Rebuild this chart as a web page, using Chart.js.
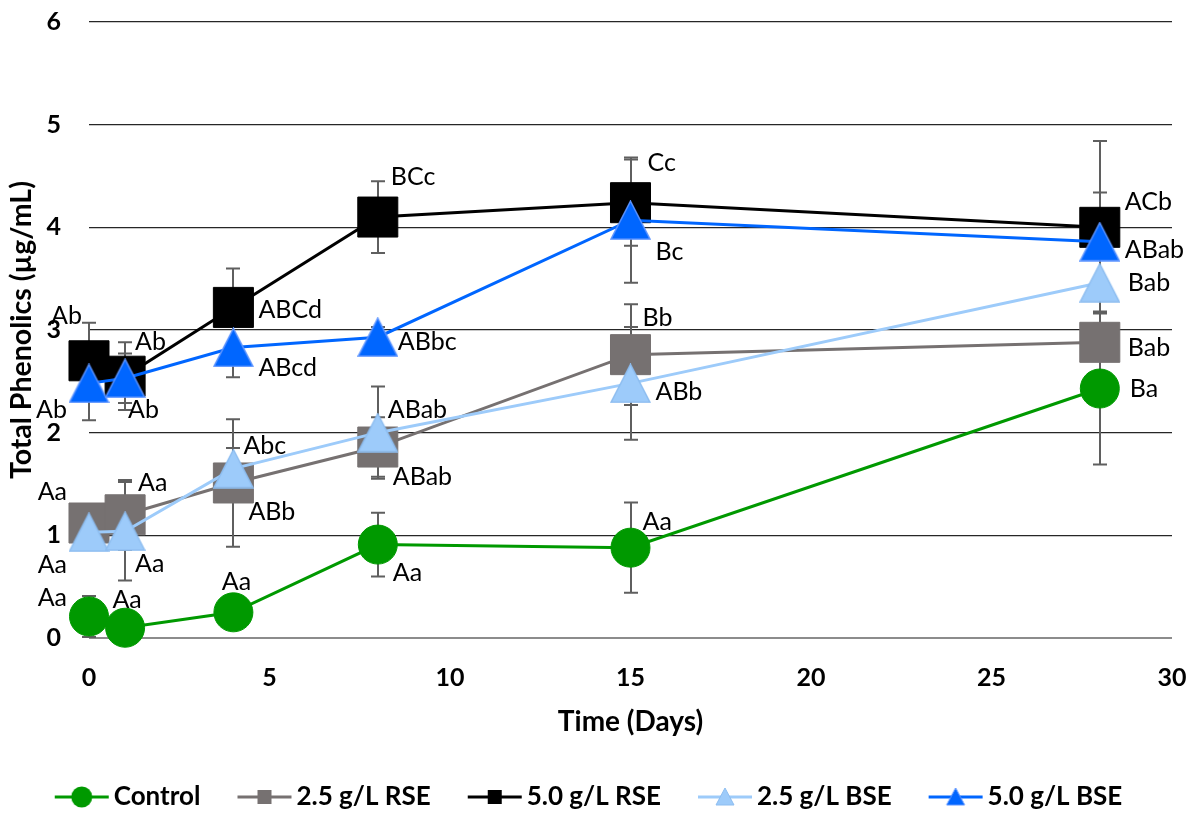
<!DOCTYPE html>
<html><head><meta charset="utf-8">
<script src="https://cdn.jsdelivr.net/npm/chart.js@4.4.1/dist/chart.umd.min.js"></script>
<style>html,body{margin:0;padding:0;background:#fff;}#wrap{width:1195px;height:814px;position:relative;}</style>
</head><body><div id="wrap"><canvas id="c"></canvas></div>
<script>
// ---- data ----
const days = [0, 1, 4, 8, 15, 28];
const seriesNames = ['Control', '2.5 g/L RSE', '5.0 g/L RSE', '2.5 g/L BSE', '5.0 g/L BSE'];
const control = [0.21, 0.10, 0.25, 0.91, 0.88, 2.43];
const rse25   = [1.12, 1.20, 1.51, 1.86, 2.76, 2.88];
const rse50   = [2.70, 2.55, 3.22, 4.10, 4.24, 4.00];
const bse25   = [1.03, 1.04, 1.65, 2.00, 2.48, 3.46];
const bse50   = [2.48, 2.53, 2.83, 2.93, 4.07, 3.86];
const errControl = [0.20, 0.08, 0.10, 0.31, 0.44, 0.74];
const errRse25   = [0.10, 0.34, 0.62, 0.29, 0.49, 0.18];
const errRse50   = [0.37, 0.33, 0.38, 0.35, 0.42, 0.84];
const errBse25   = [0.10, 0.48, 0.20, 0.45, 0.55, 0.28];
const errBse50   = [0.36, 0.24, 0.29, 0.10, 0.61, 0.48];
const lblControl = ['Aa', 'Aa', 'Aa', 'Aa', 'Aa', 'Ba'];
const lblRse25   = ['Aa', 'Aa', 'ABb', 'ABab', 'Bb', 'Bab'];
const lblRse50   = ['Ab', 'Ab', 'ABCd', 'BCc', 'Cc', 'ACb'];
const lblBse25   = ['Aa', 'Aa', 'Abc', 'ABab', 'ABb', 'Bab'];
const lblBse50   = ['Ab', 'Ab', 'ABcd', 'ABbc', 'Bc', 'ABab'];
const xTicks = [0, 5, 10, 15, 20, 25, 30];
const yTicks = [0, 1, 2, 3, 4, 5, 6];

// ---- label placement (layout, px offsets from each marker) ----
const placeControl = [[-22,-19,'right'],[2,-28,'center'],[3,-30,'center'],[15,28,'left'],[12,-26,'left'],[30,0,'left']];
const placeRse25   = [[-22,-31,'right'],[13,-32,'left'],[15,29,'left'],[15,30,'left'],[12,-37,'left'],[28,6,'left']];
const placeRse50   = [[-7,-45,'right'],[10,-34,'left'],[25,3,'left'],[13,-40,'left'],[17,-40,'left'],[25,-25,'left']];
const placeBse25   = [[-22,33,'right'],[10,33,'left'],[10,-23,'left'],[10,-23,'left'],[25,9,'left'],[28,0,'left']];
const placeBse50   = [[-22,27,'right'],[3,32,'left'],[25,20,'left'],[20,5,'left'],[25,32,'left'],[25,8,'left']];

// ---- styles ----
const FONT = 'Lato';
const LEG_F = 26, LEG_PAD = 32;
const styles = [
  {color:'#009900', fill:'#009900', edge:'#009900', marker:'circle'},
  {color:'#767171', fill:'#767171', edge:'#767171', marker:'rect'},
  {color:'#000000', fill:'#000000', edge:'#000000', marker:'rect'},
  {color:'#9DCBFA', fill:'#9DCBFA', edge:'#8DBDF0', marker:'triangle'},
  {color:'#0066FF', fill:'#0066FF', edge:'#5C94FF', marker:'triangle'}
];

function triCanvas(w, h, fill, edge) {
  const c = document.createElement('canvas'); c.width = w; c.height = h;
  const g = c.getContext('2d');
  g.beginPath(); g.moveTo(w/2, 1); g.lineTo(w-1, h-1); g.lineTo(1, h-1); g.closePath();
  g.fillStyle = fill; g.fill(); g.lineWidth = 1.5; g.strokeStyle = edge; g.stroke();
  return c;
}
// legend icon: line + marker, positioned so that text gap matches
const d = 37 - LEG_PAD;
const BOXW = d + 59 - LEG_F / 2;
const iconW = 54;
const iconCenterOffset = (d + iconW / 2) - BOXW / 2;
const LEG_IMG_W = Math.ceil(2 * (iconW / 2 + Math.abs(iconCenterOffset))) + 2;
function legendIcon(st) {
  const c = document.createElement('canvas'); c.width = LEG_IMG_W; c.height = 26;
  const g = c.getContext('2d');
  const cx = LEG_IMG_W / 2 + iconCenterOffset, cy = 13;
  g.strokeStyle = st.color; g.lineWidth = 3;
  g.beginPath(); g.moveTo(cx - iconW/2, cy); g.lineTo(cx + iconW/2, cy); g.stroke();
  g.fillStyle = st.fill;
  if (st.marker === 'circle') { g.beginPath(); g.arc(cx, cy, 10.5, 0, Math.PI*2); g.fill(); }
  else if (st.marker === 'rect') { g.fillRect(cx - 7, cy - 7, 14, 14); }
  else { g.beginPath(); g.moveTo(cx, cy - 9); g.lineTo(cx + 9, cy + 8); g.lineTo(cx - 9, cy + 8); g.closePath(); g.fill(); g.strokeStyle = st.edge; g.lineWidth = 1; g.stroke(); }
  return c;
}

const values = [control, rse25, rse50, bse25, bse50];
const errors = [errControl, errRse25, errRse50, errBse25, errBse50];
const pointLabels = [lblControl, lblRse25, lblRse50, lblBse25, lblBse50];
const places = [placeControl, placeRse25, placeRse50, placeBse25, placeBse50];
const legendIcons = styles.map(legendIcon);

const datasets = seriesNames.map((name, i) => {
  const st = styles[i];
  let pointStyle = st.marker, radius = 19.5;
  if (st.marker === 'rect') radius = 28.3;
  if (st.marker === 'triangle') { pointStyle = triCanvas(41, 40, st.fill, st.edge); radius = 20; }
  return {
    label: name,
    data: days.map((dd, j) => ({x: dd, y: values[i][j]})),
    borderColor: st.color, backgroundColor: st.fill,
    borderWidth: 3, tension: 0,
    pointStyle: pointStyle, pointRadius: radius, pointHoverRadius: radius,
    pointBackgroundColor: st.fill, pointBorderColor: st.edge, pointBorderWidth: 1,
    clip: false, order: 5 - i
  };
});

const errorBarPlugin = {
  id: 'errorBars',
  beforeDatasetsDraw(chart) {
    const g = chart.ctx, y = chart.scales.y;
    g.save(); g.strokeStyle = '#5F5F5F'; g.lineWidth = 2;
    datasets.forEach((ds, i) => {
      const meta = chart.getDatasetMeta(i);
      meta.data.forEach((pt, j) => {
        const v = values[i][j], e = errors[i][j];
        const x = Math.round(pt.x);
        const y1 = y.getPixelForValue(v + e), y2 = y.getPixelForValue(v - e);
        g.beginPath();
        g.moveTo(x, y1); g.lineTo(x, y2);
        g.moveTo(x - 7, y1); g.lineTo(x + 7, y1);
        g.moveTo(x - 7, y2); g.lineTo(x + 7, y2);
        g.stroke();
      });
    });
    g.restore();
  }
};
const labelPlugin = {
  id: 'pointLabels',
  afterDatasetsDraw(chart) {
    const g = chart.ctx;
    g.save(); g.fillStyle = '#000'; g.font = '25px ' + FONT; g.textBaseline = 'middle';
    datasets.forEach((ds, i) => {
      const meta = chart.getDatasetMeta(i);
      meta.data.forEach((pt, j) => {
        const p = places[i][j];
        g.textAlign = p[2];
        g.fillText(pointLabels[i][j], pt.x + p[0], pt.y + p[1]);
      });
    });
    g.restore();
  }
};

new Chart(document.getElementById('c'), {
  type: 'line',
  data: { datasets },
  options: {
    responsive: true, maintainAspectRatio: false, animation: false,
    layout: { autoPadding: false, padding: { left: 0, right: 23, top: 22, bottom: -6 } },
    plugins: {
      tooltip: { enabled: false },
      legend: {
        position: 'bottom',
        labels: {
          usePointStyle: true, pointStyleWidth: BOXW, padding: LEG_PAD,
          font: { family: FONT, weight: 'bold', size: LEG_F }, color: '#000',
          generateLabels: (chart) => chart.data.datasets.map((ds, i) => ({
            text: ds.label, pointStyle: legendIcons[i], fillStyle: ds.backgroundColor,
            strokeStyle: ds.borderColor, lineWidth: 0, hidden: false, datasetIndex: i, fontColor: '#000'
          }))
        }
      }
    },
    scales: {
      x: {
        type: 'linear', min: 0, max: 30,
        afterBuildTicks: (s) => { s.ticks = xTicks.map(v => ({ value: v })); },
        afterFit: (s) => { s.height = 114; s.paddingLeft = 0; s.paddingRight = 0; },
        grid: { display: false, drawTicks: false }, border: { display: false },
        ticks: { padding: 25, color: '#000', font: { family: FONT, weight: 'bold', size: 25 } },
        title: { display: true, text: 'Time (Days)', color: '#000', font: { family: FONT, weight: 'bold', size: 28 }, padding: { top: 0, bottom: 13 } }
      },
      y: {
        type: 'linear', min: 0, max: 6,
        afterBuildTicks: (s) => { s.ticks = yTicks.map(v => ({ value: v })); },
        afterFit: (s) => { s.width = 89; s.paddingTop = 0; s.paddingBottom = 0; },
        grid: { drawTicks: false, color: (c) => c.tick && c.tick.value === 0 ? '#8C8C8C' : '#262626', lineWidth: (c) => c.tick && c.tick.value === 0 ? 2 : 1.3 },
        border: { display: false },
        ticks: { padding: 28, color: '#000', font: { family: FONT, weight: 'bold', size: 25 } },
        title: { display: true, text: 'Total Phenolics (µg/mL)', color: '#000', font: { family: FONT, weight: 'bold', size: 28.5 }, padding: { top: 5, bottom: 0 } }
      }
    }
  },
  plugins: [errorBarPlugin, labelPlugin]
});
</script></body></html>
